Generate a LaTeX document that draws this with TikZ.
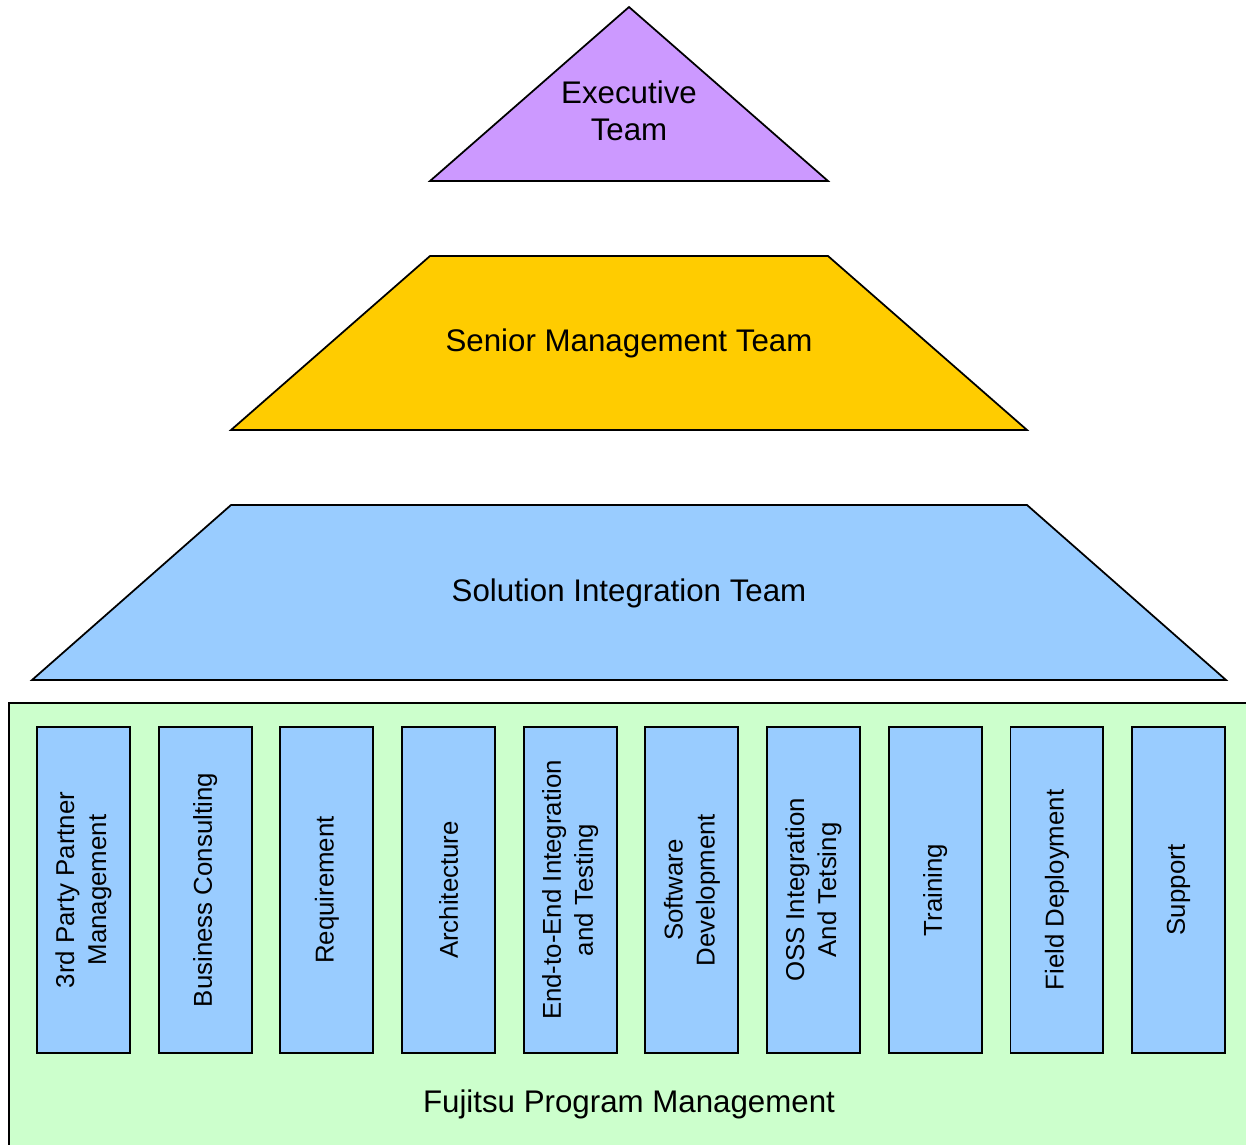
\documentclass[tikz,border=0pt]{standalone}
\usepackage{fontspec}
\setmainfont{Liberation Sans}

\definecolor{execpurple}{HTML}{CC99FF}
\definecolor{seniorgold}{HTML}{FFCC00}
\definecolor{unitblue}{HTML}{99CCFF}
\definecolor{fpmgreen}{HTML}{CCFFCC}

\begin{document}
\begin{tikzpicture}[
    x=0.02cm, y=-0.02cm,
    every node/.style={text=black},
    tier/.style={draw=black, line width=1pt, line join=miter},
    tierlabel/.style={font=\fontsize{17.8}{21}\selectfont, align=center},
    unitbox/.style={draw=black, line width=1pt, fill=unitblue, rotate=90,
        minimum width=6.52cm, minimum height=1.86cm, inner sep=0pt,
        align=center, font=\fontsize{14.7}{18.2}\selectfont}
]
    \clip (0,0) rectangle (1246,1144);

    % ==========================
    % TOP: Executive Team
    % ==========================
    \draw[tier, fill=execpurple] (629,7) -- (828,181) -- (430,181) -- cycle;
    \node[tierlabel] (exec) at (629,111) {Executive\\Team};

    % ==========================
    % MIDDLE: Senior Management
    % ==========================
    \draw[tier, fill=seniorgold] (430,256) -- (828,256) -- (1027,430) -- (231,430) -- cycle;
    \node[tierlabel] (senior) at (629,343) {Senior Management Team};

    % ==========================
    % LOWER: Solution Integration
    % ==========================
    \draw[tier, fill=unitblue] (231,505) -- (1027,505) -- (1226,680) -- (32,680) -- cycle;
    \node[tierlabel] (solution) at (629,593) {Solution Integration Team};

    % ==========================
    % BASE: Program Management
    % ==========================
    \draw[tier, fill=fpmgreen] (9,703) rectangle (1270,1170);
    \node[tierlabel] (fpm) at (629,1104) {Fujitsu Program Management};

    % Units inside the base, left to right
    \foreach \i/\txt in {
        0/{3rd Party Partner\\Management},
        1/{Business Consulting},
        2/{Requirement},
        3/{Architecture},
        4/{End-to-End Integration\\and Testing},
        5/{Software\\Development},
        6/{OSS Integration\\And Tetsing},
        7/{Training},
        8/{Field Deployment},
        9/{Support}}
    {
        \node[unitbox] (U\i) at ({83.5+121.67*\i},890) {\txt};
    }

\end{tikzpicture}
\end{document}
